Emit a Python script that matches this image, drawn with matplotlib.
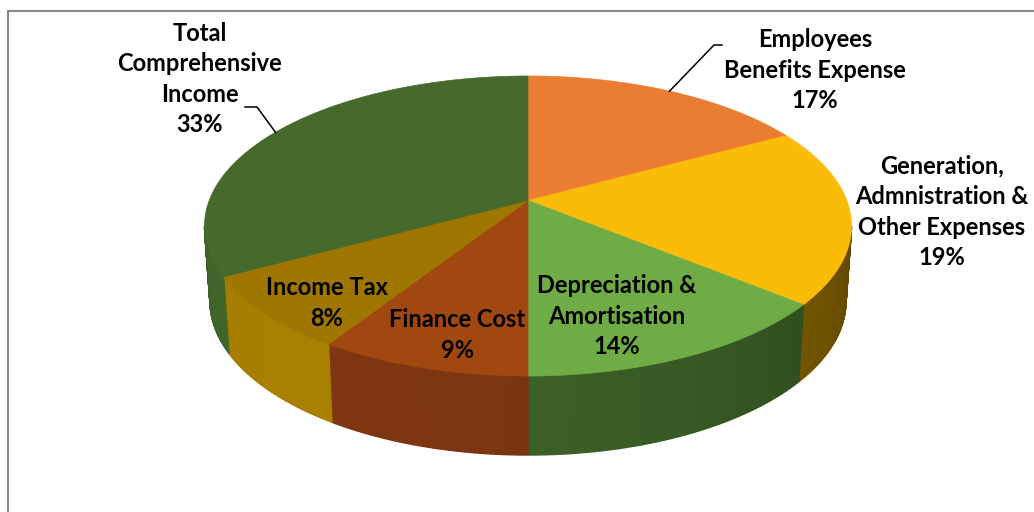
import numpy as np
import matplotlib
matplotlib.use("Agg")
import matplotlib.pyplot as plt
from matplotlib.colors import to_rgb

# slices, clockwise from 12 o'clock
labels = [
    "Employees\nBenefits Expense",
    "Generation,\nAdmnistration &\nOther Expenses",
    "Depreciation &\nAmortisation",
    "Finance Cost",
    "Income Tax",
    "Total\nComprehensive\nIncome",
]
values = [17, 19, 14, 9, 8, 33]

TOP_COLORS  = ["#EA7D32", "#FBBC07", "#6FAC46", "#A0480F", "#9E7600", "#456A2C"]
WALL_COLORS = ["#B05A20", "#8A6600", "#3A5E26", "#763310", "#9E7700", "#3F6128"]

# label block centres (pixels) and leader elbows
LABEL_POS = [(815, 70), (942, 212), (617, 316), (457, 335), (327, 303), (200, 79)]
LEADERS = {0: [(722, 45), (714, 45)], 5: [(245, 107), (257, 107)]}

W, H = 1034, 512
CX = 528
TOP_CY, TOP_RX, TOP_RY = 226, 323.5, 150
BOT_CY, BOT_RX, BOT_RY = 301, 318, 154
V0 = 0.17          # perspective shift of the pie centre
LIGHT = np.deg2rad(-125)


def project(t, cy, rx, ry):
    s, c = np.sin(t), np.cos(t)
    d = 1 + V0 * s
    u = c * np.sqrt(1 - V0 ** 2) / d
    v = (s + V0) / d
    return CX + rx * u, cy - ry * v


fig = plt.figure(figsize=(W / 100, H / 100), dpi=100)
ax = fig.add_axes([0, 0, 1, 1])
ax.set_xlim(0, W)
ax.set_ylim(H, 0)
ax.axis("off")

# chart frame (left + top visible)
ax.plot([8, 8, W], [H, 11, 11], color="#888888", lw=1.5, solid_capstyle="butt")

fracs = np.array(values, dtype=float) / sum(values)
cum = np.concatenate([[0], np.cumsum(fracs)])
t_start = np.deg2rad(90 - 360 * cum[:-1])
t_end = np.deg2rad(90 - 360 * cum[1:])

# visible wall: where the top rim is on the lower half of the outline
vis_lo = -np.pi + np.arcsin(V0)
vis_hi = -np.arcsin(V0)

for i in range(len(values)):
    lo = max(t_end[i], vis_lo)
    hi = min(t_start[i], vis_hi)
    if lo >= hi:
        continue
    base = np.array(to_rgb(WALL_COLORS[i]))
    # full wall underneath so the shading strips leave no seams
    tt = np.linspace(lo, hi, 120)
    xt, yt = project(tt, TOP_CY, TOP_RX, TOP_RY)
    xb, yb = project(tt, BOT_CY, BOT_RX, BOT_RY)
    mid_col = np.clip(base * (0.82 + 0.25 * np.cos((lo + hi) / 2 - LIGHT)), 0, 1)
    ax.fill(np.r_[xt, xb[::-1]], np.r_[yt, yb[::-1]], color=mid_col, lw=0)

    edges = np.linspace(lo, hi, 41)
    for a, b in zip(edges[:-1], edges[1:]):
        tt = np.linspace(a, b, 6)
        xt, yt = project(tt, TOP_CY, TOP_RX, TOP_RY)
        xb, yb = project(tt, BOT_CY, BOT_RX, BOT_RY)
        f = 0.82 + 0.25 * np.cos((a + b) / 2 - LIGHT)
        col = np.clip(base * f, 0, 1)
        ax.fill(np.r_[xt, xb[::-1]], np.r_[yt, yb[::-1]],
                color=col, lw=1.0, ec=col)

# top face
apex = (CX, TOP_CY - TOP_RY * V0)
for i in range(len(values)):
    tt = np.linspace(t_start[i], t_end[i], 200)
    x, y = project(tt, TOP_CY, TOP_RX, TOP_RY)
    ax.fill(np.r_[apex[0], x], np.r_[apex[1], y],
            color=TOP_COLORS[i], ec=TOP_COLORS[i], lw=0.5)

# labels
for i, (lab, val) in enumerate(zip(labels, values)):
    x, y = LABEL_POS[i]
    ax.text(x, y, f"{lab}\n{val}%", ha="center", va="center",
            fontsize=17, fontweight="bold", family="Lato",
            color="black", linespacing=1.4)
    if i in LEADERS:
        mid = (t_start[i] + t_end[i]) / 2
        ex, ey = project(mid, TOP_CY, TOP_RX, TOP_RY)
        pts = LEADERS[i] + [(ex, ey)]
        ax.plot([p[0] for p in pts], [p[1] for p in pts], color="black", lw=1.1)

fig.savefig("out.png", dpi=100, facecolor="white")
